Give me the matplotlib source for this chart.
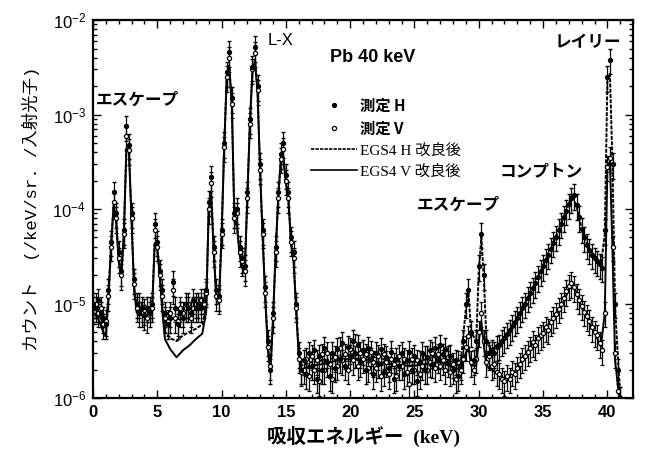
import matplotlib
matplotlib.use("Agg")
import matplotlib.pyplot as plt
import numpy as np
from matplotlib.lines import Line2D
from matplotlib.ticker import FixedLocator, MultipleLocator

#
# Data (counts in units of 1e-6 /keV/sr./photon)
#

# measured spectra, one point every 0.2 keV from 0.0 to 41.0 keV
energy = np.round(np.arange(0.0, 41.01, 0.2), 1)

meas_h = [
    10, 9, 11, 8, 7, 6, 14, 45, 150, 90,
    35, 22, 60, 750, 480, 90, 18, 10, 8, 9,
    7.5, 9, 8, 10, 70, 45, 22, 14, 8, 6,
    7, 17, 9, 6, 8, 7, 10, 9, 8, 11,
    9, 10, 9, 11, 14, 120, 220, 40, 14, 12,
    60, 500, 2800, 4600, 1500, 90, 100, 40, 30, 25,
    150, 900, 3200, 5200, 2000, 300, 60, 15, 4, 2,
    8, 40, 150, 380, 500, 230, 150, 50, 35, 10,
    3, 2, 2.5, 1.8, 3.0, 2.2, 3.2, 1.6, 2.8, 2.0,
    3.4, 2.4, 1.7, 3.0, 2.1, 3.3, 2.6, 3.8, 2.2, 3.5,
    2.8, 4.0, 3.0, 3.6, 2.4, 3.2, 2.0, 3.4, 2.6, 1.8,
    3.0, 2.3, 3.3, 1.9, 2.7, 2.1, 3.1, 1.6, 2.6, 2.2,
    3.0, 1.8, 2.5, 3.1, 2.0, 2.8, 1.5, 2.4, 3.0, 2.0,
    2.7, 3.2, 2.3, 3.4, 2.6, 3.6, 2.9, 3.3, 2.4, 2.8,
    2.0, 2.5, 1.7, 2.2, 4, 10, 14, 5, 2.5, 4,
    25, 55, 20, 4, 3, 3.2, 3.0, 3.5, 3.6, 4.0,
    4.3, 4.8, 5.2, 5.8, 6.4, 7.0, 8.0, 9.0, 10.0, 11.5,
    13, 14.5, 16.5, 19, 22, 25, 29, 33, 38, 44,
    51, 60, 70, 82, 96, 112, 130, 140, 110, 82,
    62, 50, 42, 37, 33, 30, 28, 26, 24, 60,
    2500, 3800, 300, 10, 2, 1,
]

meas_v = [
    9, 10, 8, 9, 6, 6.5, 12, 40, 120, 80,
    30, 20, 55, 600, 420, 80, 16, 9, 10, 8,
    8.5, 7, 9, 9, 60, 40, 20, 12, 7, 6.5,
    8, 14, 7, 6.5, 9, 8, 9, 10, 7, 9,
    10, 9, 11, 10, 13, 100, 190, 35, 12, 11,
    55, 450, 2500, 4000, 1300, 80, 90, 35, 28, 22,
    130, 800, 3000, 4500, 1800, 260, 55, 13, 3.5, 2.2,
    7, 35, 130, 340, 430, 200, 130, 45, 30, 9,
    2.6, 1.9, 2.0, 2.6, 1.7, 2.8, 2.0, 2.5, 1.5, 2.9,
    2.0, 3.0, 2.3, 1.6, 2.7, 2.2, 3.4, 2.5, 2.9, 2.0,
    3.3, 2.5, 3.7, 2.2, 3.0, 2.6, 2.9, 2.1, 3.1, 2.4,
    2.1, 2.8, 1.7, 2.9, 2.4, 1.8, 2.6, 2.3, 1.7, 2.8,
    2.2, 2.6, 1.9, 1.4, 2.6, 2.0, 2.5, 1.8, 2.2, 2.7,
    2.0, 2.4, 3.0, 2.1, 2.9, 2.2, 2.5, 2.0, 2.7, 1.9,
    2.3, 1.6, 2.4, 2.0, 2.6, 3.5, 4.5, 2.4, 2.0, 2.6,
    5, 8, 4, 2.4, 2.8, 2.2, 2.3, 1.9, 1.8, 1.6,
    1.5, 1.7, 1.6, 1.9, 1.8, 2.1, 2.3, 2.6, 2.8, 3.1,
    3.4, 3.9, 3.6, 4.3, 4.6, 4.9, 5.6, 5.3, 6.4, 7.0,
    7.8, 8.8, 10, 11.5, 13.5, 15.5, 16.5, 15, 12.5, 11,
    9.5, 8.2, 7.4, 6.6, 5.6, 5.0, 4.6, 3.8, 3.2, 8,
    280, 350, 40, 3, 1.2, 1,
]

# EGS4 simulation (improved), H and V
egs_e = [
    0.0, 0.4, 0.8, 1.0, 1.2, 1.4, 1.6, 1.8, 2.0, 2.2,
    2.4, 2.6, 2.8, 3.0, 3.2, 3.4, 3.8, 4.2, 4.6, 4.8,
    5.0, 5.2, 5.4, 5.6, 6.0, 6.5, 7.0, 7.5, 8.0, 8.5,
    8.8, 9.0, 9.2, 9.4, 9.6, 9.8, 10.0, 10.2, 10.4, 10.6,
    10.8, 11.0, 11.2, 11.4, 11.6, 11.8, 12.0, 12.2, 12.4, 12.6,
    12.8, 13.0, 13.2, 13.4, 13.6, 13.8, 14.0, 14.2, 14.4, 14.6,
    14.8, 15.0, 15.2, 15.4, 15.6, 15.8, 16.0, 16.2, 17, 18,
    19, 20, 21, 22, 23, 24, 25, 26, 27, 28,
    28.6, 29.0, 29.2, 29.4, 29.8, 30.0, 30.2, 30.4, 30.6, 31.0,
    32, 33, 34, 35, 36, 36.6, 37.0, 37.3, 37.6, 38.0,
    38.5, 39.0, 39.5, 39.8, 40.0, 40.2, 40.4, 40.6, 41.0,
]
egs_h = [
    9, 8, 6, 5.5, 12, 40, 110, 80, 30, 20,
    55, 450, 420, 80, 15, 9, 8, 8, 9, 45,
    40, 20, 9, 5, 4.3, 4.0, 4.6, 5.0, 5.4, 6.0,
    9, 100, 150, 35, 12, 11, 55, 450, 2500, 3300,
    1300, 80, 70, 35, 25, 22, 130, 800, 2900, 3800,
    1800, 250, 50, 12, 3.5, 2, 7, 35, 130, 330,
    360, 200, 130, 45, 30, 9, 3, 2.2, 2.4, 2.5,
    2.7, 2.9, 2.9, 2.7, 2.5, 2.4, 2.4, 2.6, 2.9, 2.5,
    2.4, 9, 13, 5, 4, 22, 50, 18, 4, 3.2,
    4.4, 7.0, 13, 25, 51, 82, 112, 132, 108, 62,
    40, 30, 25, 55, 2300, 2700, 280, 9, 1,
]
egs_v = [
    8, 7, 5, 4.5, 11, 38, 105, 75, 28, 19,
    52, 430, 400, 75, 14, 8, 7.5, 7.5, 8.5, 42,
    38, 19, 8, 4.2, 3.3, 2.7, 3.2, 3.6, 4.2, 4.8,
    8, 95, 140, 32, 11, 10, 50, 420, 2400, 3100,
    1250, 75, 65, 33, 24, 21, 125, 780, 2800, 3600,
    1700, 240, 48, 11, 3.3, 1.9, 6.5, 33, 125, 320,
    350, 190, 125, 43, 28, 8.5, 2.8, 2.0, 2.2, 2.3,
    2.5, 2.6, 2.6, 2.4, 2.3, 2.2, 2.2, 2.3, 2.4, 2.1,
    2.0, 3, 3.5, 2.2, 2.2, 4, 6.5, 3.5, 2.2, 2.0,
    1.6, 2.0, 3.5, 5, 7.5, 10.5, 14, 16, 13, 9,
    6.8, 5, 3.5, 8, 280, 320, 35, 2.5, 0.8,
]

rel_err = 0.3  # approximate size of the error bars

labels = ["測定 H", "測定 V", "EGS4 H 改良後", "EGS4 V 改良後"]

#
# Plot settings
#
plt.rcParams["font.family"] = ["Liberation Sans", "Noto Sans CJK JP"]
plt.rcParams["mathtext.fontset"] = "custom"
plt.rcParams["mathtext.rm"] = "Liberation Sans:bold"
plt.rcParams["mathtext.it"] = "Liberation Sans:bold"
plt.rcParams["mathtext.bf"] = "Liberation Sans:bold"
jp_bold = dict(family=["Noto Sans CJK JP"], weight="bold")

scale = 1e-6
mh = np.array(meas_h) * scale
mv = np.array(meas_v) * scale
eh = np.array(egs_h) * scale
ev = np.array(egs_v) * scale

fig = plt.figure(figsize=(6.5, 4.51), dpi=100)
ax = fig.add_axes([0.143, 0.1175, 0.831, 0.838])

ax.errorbar(energy, mv, yerr=mv * rel_err, fmt="o", ms=3.0, mfc="white",
            mec="black", mew=0.9, ecolor="black", elinewidth=0.9, capsize=1.6)
ax.errorbar(energy, mh, yerr=mh * rel_err, fmt="o", ms=2.8, color="black",
            ecolor="black", elinewidth=0.9, capsize=1.6)
ax.plot(egs_e, eh, color="black", lw=1.4, ls=(0, (2, 0.7)))
ax.plot(egs_e, ev, color="black", lw=1.4, ls="-")

ax.set_yscale("log")
ax.set_xlim(0, 42)
ax.set_ylim(1e-6, 1e-2)

# ticks
ax.xaxis.set_major_locator(FixedLocator([0, 5, 10, 15, 20, 25, 30, 35, 40]))
ax.xaxis.set_minor_locator(MultipleLocator(1))
ax.tick_params(which="both", direction="in", top=True, right=True, width=1.0)
ax.tick_params(which="major", length=6, labelsize=12, pad=5)
ax.tick_params(which="minor", length=3)
for lbl in ax.get_xticklabels():
    lbl.set_fontweight("bold")
for sp in ax.spines.values():
    sp.set_linewidth(1.6)

ax.set_xlabel("吸収エネルギー  (keV)", fontsize=14, fontweight="bold",
              family=["Liberation Serif", "Noto Sans CJK JP"], labelpad=4)
ax.set_ylabel("カウント  (/keV/sr. /入射光子)", fontsize=12.5,
              family=["Liberation Mono", "Noto Sans CJK JP"], labelpad=9)

# annotations
ax.text(0.2, 1.45e-3, "エスケープ", fontsize=12, va="center", **jp_bold)
ax.text(13.6, 6.1e-3, "L-X", fontsize=12, va="center")
ax.text(18.4, 4.0e-3, "Pb 40 keV", fontsize=13, va="center", fontweight="bold")
ax.text(35.9, 5.9e-3, "レイリー", fontsize=12, va="center", **jp_bold)
ax.text(31.6, 2.5e-4, "コンプトン", fontsize=12, va="center", **jp_bold)
ax.text(25.2, 1.1e-4, "エスケープ", fontsize=12, va="center", **jp_bold)

# legend
handles = [
    Line2D([], [], ls="none", marker="o", ms=2.8, color="black"),
    Line2D([], [], ls="none", marker="o", ms=3.0, mfc="white", mec="black", mew=0.9),
    Line2D([], [], color="black", lw=1.2, ls=(0, (2, 0.7))),
    Line2D([], [], color="black", lw=1.2, ls="-"),
]
leg = ax.legend(handles, labels, loc="upper left", bbox_to_anchor=(0.39, 0.815),
                frameon=False, handlelength=3.0, handletextpad=0.2,
                labelspacing=0.45, borderpad=0, fontsize=11)
for i, t in enumerate(leg.get_texts()):
    if i < 2:
        t.set_fontproperties(dict(family=["Noto Sans CJK JP"], weight="bold", size=11))
    else:
        t.set_fontproperties(dict(family=["Liberation Serif", "Noto Sans CJK JP"], size=11))

fig.savefig("out.png", dpi=100)
